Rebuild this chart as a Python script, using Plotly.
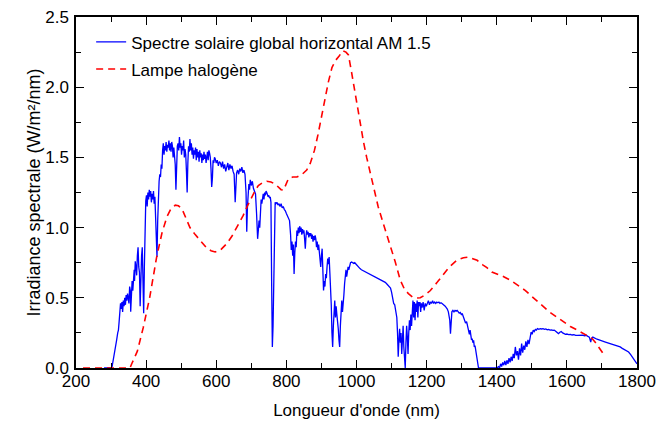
import plotly.graph_objects as go

# AM 1.5 global horizontal solar spectrum (wavelength in nm, irradiance in W/m²/nm)
solar_nm = [
    280, 300, 303, 306, 310, 313, 316, 319, 321, 323, 325, 327, 329, 331, 333, 335, 337, 339,
    341, 343, 345, 347, 349, 351, 353, 355, 356, 358, 360, 362, 364, 366, 367, 369, 371, 373,
    375, 377, 379, 381, 383, 385, 387, 389, 391, 393, 395, 397, 399, 401, 403, 405, 407, 409,
    411, 413, 415, 417, 419, 421, 423, 425, 427, 429, 431, 433, 435, 437, 439, 441, 443, 445,
    447, 449, 451, 453, 455, 457, 459, 461, 463, 465, 467, 469, 471, 473, 475, 477, 479, 481,
    483, 485, 487, 489, 491, 493, 495, 497, 499, 501, 503, 505, 507, 509, 511, 513, 515, 517,
    519, 521, 523, 525, 527, 529, 531, 533, 535, 537, 539, 541, 543, 545, 547, 549, 551, 553,
    555, 557, 559, 561, 563, 565, 567, 569, 571, 573, 575, 577, 579, 581, 583, 585, 587, 589,
    591, 593, 595, 597, 600, 603, 606, 609, 612, 615, 618, 621, 624, 627, 630, 633, 636, 639,
    642, 645, 648, 651, 654, 656, 658, 661, 664, 667, 670, 673, 676, 679, 682, 685, 687, 689,
    691, 693, 695, 697, 700, 703, 706, 709, 712, 715, 718, 720, 722, 724, 726, 728, 730, 732,
    734, 736, 738, 740, 742, 744, 746, 748, 750, 752, 754, 756, 758, 760, 762, 764, 766, 768,
    770, 773, 776, 779, 782, 785, 788, 791, 794, 797, 800, 803, 806, 809, 812, 814, 816, 818,
    820, 822, 824, 826, 828, 830, 832, 834, 836, 838, 840, 842, 844, 846, 848, 850, 852, 854,
    856, 858, 860, 862, 864, 866, 868, 870, 872, 874, 876, 878, 880, 882, 884, 886, 888, 890,
    892, 894, 896, 898, 900, 902, 904, 906, 908, 910, 912, 914, 916, 918, 920, 922, 924, 926,
    928, 930, 932, 934, 936, 938, 940, 942, 944, 946, 948, 950, 952, 954, 956, 958, 960, 962,
    964, 966, 968, 970, 972, 974, 976, 978, 980, 983, 986, 989, 992, 995, 998, 1001, 1004, 1007,
    1010, 1014, 1018, 1022, 1026, 1030, 1034, 1038, 1042, 1046, 1050, 1054, 1058, 1062, 1066,
    1070, 1074, 1078, 1082, 1086, 1090, 1094, 1097, 1100, 1103, 1106, 1109, 1112, 1115, 1117,
    1119, 1121, 1123, 1125, 1127, 1129, 1131, 1133, 1135, 1137, 1139, 1141, 1143, 1145, 1147,
    1149, 1151, 1153, 1155, 1157, 1159, 1161, 1163, 1165, 1167, 1169, 1171, 1173, 1175, 1177,
    1179, 1181, 1183, 1185, 1187, 1190, 1193, 1196, 1199, 1202, 1205, 1208, 1211, 1214, 1217,
    1220, 1223, 1226, 1229, 1232, 1235, 1238, 1241, 1244, 1247, 1250, 1253, 1256, 1259, 1262,
    1264, 1266, 1268, 1270, 1272, 1275, 1278, 1281, 1284, 1287, 1290, 1293, 1296, 1299, 1302,
    1305, 1308, 1311, 1314, 1317, 1320, 1322, 1324, 1326, 1328, 1330, 1332, 1334, 1336, 1338,
    1340, 1342, 1344, 1346, 1348, 1400, 1405, 1408, 1411, 1414, 1417, 1420, 1423, 1426, 1429,
    1432, 1435, 1438, 1441, 1444, 1447, 1450, 1453, 1456, 1459, 1462, 1465, 1468, 1471, 1474,
    1477, 1480, 1483, 1486, 1489, 1492, 1495, 1498, 1501, 1504, 1507, 1510, 1513, 1516, 1520,
    1524, 1528, 1532, 1536, 1540, 1544, 1548, 1552, 1556, 1560, 1564, 1568, 1572, 1576, 1580,
    1584, 1588, 1592, 1596, 1600, 1605, 1610, 1615, 1620, 1625, 1630, 1635, 1640, 1645, 1650,
    1655, 1660, 1664, 1668, 1670, 1674, 1680, 1686, 1692, 1698, 1704, 1710, 1716, 1722, 1728,
    1734, 1740, 1746, 1752, 1758, 1764, 1770, 1776, 1782, 1788, 1794, 1800,
]
solar_irr = [
    0.0, 0.0, 0.01, 0.05, 0.10, 0.16, 0.20, 0.25, 0.27, 0.33, 0.40, 0.46, 0.42, 0.47, 0.40, 0.48, 0.44, 0.50,
    0.45, 0.52, 0.48, 0.53, 0.50, 0.46, 0.58, 0.55, 0.40, 0.57, 0.62, 0.55, 0.66, 0.70, 0.62, 0.76, 0.72, 0.66,
    0.80, 0.86, 0.72, 0.68, 0.44, 0.70, 0.80, 0.86, 0.62, 0.39, 0.72, 1.10, 1.19, 1.23, 1.15, 1.25, 1.20, 1.27,
    1.22, 1.26, 1.18, 1.24, 1.20, 1.26, 1.17, 1.22, 1.10, 0.95, 0.79, 1.05, 1.28, 1.33, 1.38, 1.36, 1.45, 1.42,
    1.55, 1.60, 1.52, 1.58, 1.55, 1.61, 1.54, 1.59, 1.57, 1.62, 1.55, 1.60, 1.54, 1.61, 1.58, 1.50, 1.57, 1.53,
    1.45, 1.27, 1.48, 1.58, 1.60, 1.55, 1.645, 1.57, 1.60, 1.52, 1.58, 1.55, 1.62, 1.50, 1.56, 1.52, 1.40, 1.25,
    1.46, 1.58, 1.54, 1.63, 1.55, 1.60, 1.52, 1.57, 1.49, 1.55, 1.52, 1.57, 1.48, 1.56, 1.50, 1.54, 1.47, 1.55,
    1.50, 1.53, 1.46, 1.52, 1.48, 1.54, 1.49, 1.52, 1.46, 1.50, 1.54, 1.48, 1.55, 1.53, 1.50, 1.42, 1.29, 1.35,
    1.48, 1.46, 1.50, 1.49, 1.46, 1.48, 1.44, 1.47, 1.46, 1.43, 1.47, 1.42, 1.45, 1.40, 1.43, 1.46, 1.41, 1.45,
    1.42, 1.44, 1.40, 1.38, 1.18, 1.30, 1.39, 1.41, 1.38, 1.42, 1.40, 1.43, 1.39, 1.41, 1.38, 1.25, 0.97, 1.15,
    1.28, 1.31, 1.27, 1.34, 1.30, 1.33, 1.28, 1.26, 1.24, 1.10, 0.92, 0.98, 1.05, 1.00, 1.12, 1.20, 1.17, 1.23,
    1.24, 1.20, 1.25, 1.23, 1.26, 1.25, 1.24, 1.22, 1.23, 1.21, 1.22, 1.18, 0.60, 0.15, 0.30, 0.75, 1.10, 1.18,
    1.17, 1.18, 1.16, 1.17, 1.15, 1.17, 1.14, 1.15, 1.13, 1.12, 1.10, 1.08, 1.07, 1.05, 0.95, 0.84, 0.90, 0.80,
    0.88, 0.67, 0.82, 0.90, 0.86, 0.98, 0.94, 1.00, 0.96, 1.01, 0.97, 1.00, 0.95, 0.99, 0.96, 0.98, 0.92, 0.85,
    0.94, 0.98, 0.95, 0.97, 0.93, 0.96, 0.94, 0.96, 0.92, 0.95, 0.90, 0.94, 0.91, 0.945, 0.92, 0.86, 0.90, 0.84,
    0.88, 0.80, 0.767, 0.72, 0.80, 0.85, 0.70, 0.553, 0.62, 0.58, 0.67, 0.64, 0.72, 0.78, 0.74, 0.79, 0.68, 0.60,
    0.45, 0.25, 0.15, 0.30, 0.42, 0.48, 0.36, 0.44, 0.38, 0.34, 0.28, 0.20, 0.15, 0.30, 0.45, 0.48, 0.40, 0.44,
    0.52, 0.60, 0.66, 0.70, 0.65, 0.68, 0.72, 0.70, 0.73, 0.75, 0.755, 0.75, 0.745, 0.75, 0.74, 0.73, 0.725, 0.71,
    0.708, 0.70, 0.695, 0.69, 0.685, 0.68, 0.675, 0.67, 0.665, 0.66, 0.655, 0.65, 0.645, 0.64, 0.633,
    0.628, 0.62, 0.615, 0.61, 0.60, 0.59, 0.58, 0.57, 0.54, 0.50, 0.46, 0.45, 0.40, 0.36, 0.25,
    0.08, 0.20, 0.28, 0.18, 0.25, 0.10, 0.22, 0.30, 0.15, 0.05, 0.0, 0.18, 0.30, 0.22, 0.10,
    0.25, 0.34, 0.27, 0.38, 0.30, 0.42, 0.48, 0.36, 0.47, 0.34, 0.46, 0.40, 0.48, 0.36, 0.47,
    0.44, 0.47, 0.40, 0.46, 0.43, 0.47, 0.41, 0.46, 0.44, 0.47, 0.48, 0.45, 0.47, 0.46, 0.48,
    0.46, 0.47, 0.46, 0.47, 0.465, 0.47, 0.46, 0.465, 0.46, 0.455, 0.45, 0.44, 0.43, 0.42, 0.40,
    0.38, 0.34, 0.245, 0.33, 0.40, 0.41, 0.40, 0.41, 0.405, 0.41, 0.40, 0.39, 0.395, 0.38, 0.385,
    0.36, 0.35, 0.32, 0.33, 0.30, 0.28, 0.24, 0.27, 0.22, 0.20, 0.21, 0.18, 0.197, 0.15, 0.16,
    0.12, 0.10, 0.06, 0.03, 0.0, 0.0, 0.01, 0.0, 0.03, 0.01, 0.04, 0.02, 0.05, 0.02, 0.055,
    0.03, 0.07, 0.04, 0.08, 0.05, 0.10, 0.07, 0.15, 0.09, 0.12, 0.06, 0.14, 0.09, 0.174, 0.11,
    0.16, 0.13, 0.19, 0.15, 0.20, 0.17, 0.23, 0.256, 0.24, 0.27, 0.26, 0.275, 0.27, 0.28, 0.275,
    0.28, 0.278, 0.28, 0.275, 0.278, 0.272, 0.275, 0.27, 0.272, 0.268, 0.27, 0.262, 0.255, 0.245, 0.255,
    0.26, 0.25, 0.245, 0.24, 0.242, 0.238, 0.24, 0.235, 0.237, 0.232, 0.233, 0.235, 0.232, 0.234, 0.23,
    0.233, 0.225, 0.22, 0.185, 0.21, 0.22, 0.21, 0.205, 0.20, 0.197, 0.19, 0.185, 0.18, 0.176, 0.17,
    0.165, 0.16, 0.155, 0.15, 0.14, 0.132, 0.122, 0.114, 0.095, 0.075, 0.05, 0.03,
]

# Halogen lamp emission spectrum (same units)
lamp_nm = [
    220, 260, 300, 340, 354, 359, 375, 392, 410, 430, 445, 459, 470, 483, 492, 502, 513, 525,
    540, 554, 571, 585, 597, 612, 630, 645, 659, 677, 690, 701, 710, 720, 732, 744, 756, 768,
    777, 785, 792, 798, 806, 818, 830, 845, 858, 868, 880, 890, 900, 910, 920, 930, 940, 950,
    961, 970, 977, 985, 991, 1000, 1010, 1020, 1029, 1040, 1050, 1062, 1075, 1085, 1096, 1110,
    1125, 1137, 1148, 1160, 1172, 1182, 1195, 1210, 1230, 1248, 1265, 1286, 1305, 1320, 1332,
    1344, 1360, 1372, 1386, 1400, 1420, 1439, 1460, 1481, 1500, 1515, 1533, 1550, 1570, 1590,
    1610, 1630, 1647, 1660, 1672, 1682, 1692, 1703,
]
lamp_irr = [
    0.0, 0.0, 0.0, 0.0, 0.0, 0.03, 0.12, 0.29, 0.50, 0.79, 0.96, 1.075, 1.13, 1.16, 1.155, 1.135, 1.07, 1.00,
    0.95, 0.91, 0.86, 0.835, 0.826, 0.84, 0.886, 0.94, 1.00, 1.087, 1.16, 1.218, 1.26, 1.30, 1.32, 1.33, 1.325, 1.31,
    1.29, 1.27, 1.266, 1.30, 1.35, 1.36, 1.36, 1.38, 1.41, 1.457, 1.55, 1.66, 1.79, 1.92, 2.04, 2.14, 2.19, 2.22,
    2.26, 2.25, 2.23, 2.12, 2.03, 1.89, 1.74, 1.61, 1.50, 1.38, 1.28, 1.147, 1.04, 0.96, 0.888, 0.76,
    0.625, 0.56, 0.53, 0.505, 0.498, 0.50, 0.52, 0.55, 0.61, 0.67, 0.72, 0.767, 0.785, 0.79, 0.78,
    0.767, 0.735, 0.715, 0.684, 0.67, 0.65, 0.625, 0.59, 0.553, 0.51, 0.475, 0.434, 0.40, 0.365, 0.328,
    0.295, 0.27, 0.246, 0.228, 0.21, 0.18, 0.14, 0.104,
]

x_tick_vals = [200, 400, 600, 800, 1000, 1200, 1400, 1600, 1800]
y_tick_vals = [0.0, 0.5, 1.0, 1.5, 2.0, 2.5]
y_tick_text = ["0.0", "0.5", "1.0", "1.5", "2.0", "2.5"]

FONT = "Liberation Sans, Arial, sans-serif"

fig = go.Figure()
fig.add_trace(go.Scatter(
    x=solar_nm, y=solar_irr, mode="lines",
    name="Spectre solaire global horizontal AM 1.5",
    line=dict(color="#0000ff", width=1.3),
    legendgroup="a",
))
fig.add_trace(go.Scatter(
    x=lamp_nm, y=lamp_irr, mode="lines",
    name="Lampe halogène",
    line=dict(color="#ff0000", width=1.6, dash="7px,5px"),
    legendgroup="b",
))

axis_common = dict(
    showline=True, linecolor="black", linewidth=1.5, mirror="ticks",
    ticks="inside", ticklen=8, tickwidth=1.3, tickcolor="black",
    showgrid=False, zeroline=False, automargin=False,
    tickfont=dict(family=FONT, size=17, color="black"),
)

fig.update_xaxes(
    range=[200, 1800], tickvals=x_tick_vals,
    minor=dict(dtick=100, ticks="inside", ticklen=5, tickwidth=1.3, tickcolor="black", showgrid=False),
    title=dict(text="Longueur d'onde (nm)", font=dict(family=FONT, size=17, color="black"), standoff=14),
    ticklabelstandoff=-3,
    **axis_common,
)
fig.update_yaxes(
    range=[0, 2.5], tickvals=y_tick_vals, ticktext=y_tick_text,
    minor=dict(dtick=0.25, ticks="inside", ticklen=5, tickwidth=1.3, tickcolor="black", showgrid=False),
    title=dict(text="Irradiance spectrale (W/m²/nm)", font=dict(family=FONT, size=18, color="black"), standoff=0),
    ticklabelstandoff=2,
    **axis_common,
)

fig.update_layout(
    template="none",
    width=657, height=421,
    margin=dict(l=76, r=20, t=17, b=53),
    paper_bgcolor="white", plot_bgcolor="white",
    showlegend=True,
    legend=dict(
        x=0.027, y=0.979, xanchor="left", yanchor="top",
        bgcolor="rgba(0,0,0,0)", borderwidth=0,
        font=dict(family=FONT, size=17, color="black"),
        traceorder="grouped", tracegroupgap=2,
    ),
)

fig.write_html("out.html")
